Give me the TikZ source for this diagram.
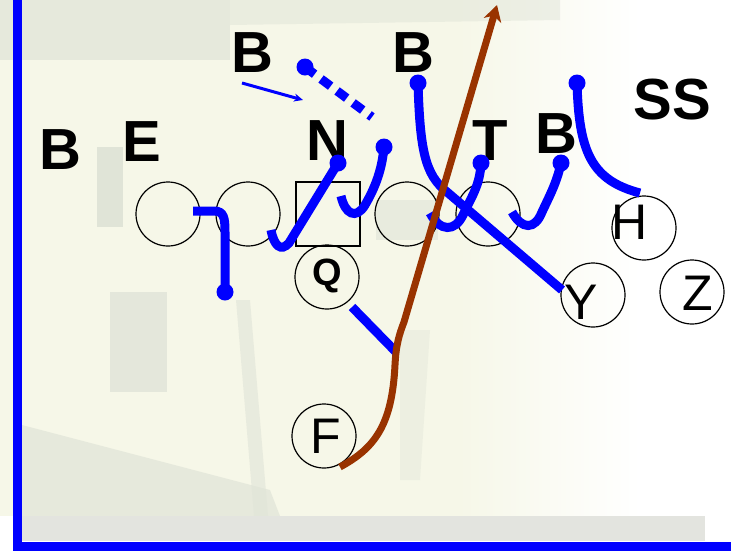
\documentclass[tikz,border=0pt]{standalone}
\usepackage{fontspec}
\setmainfont{Liberation Sans}
\usetikzlibrary{arrows.meta}
\definecolor{routeblue}{RGB}{0,0,255}
\definecolor{runbrown}{RGB}{153,51,0}
\definecolor{barfill}{RGB}{227,228,223}
\definecolor{bgcream}{RGB}{246,247,232}
\definecolor{bggrey}{RGB}{224,228,216}
\definecolor{bgdark}{RGB}{210,216,205}
\tikzset{
  player/.style={circle,draw=black,line width=1.2pt,minimum size=64pt,inner sep=0pt},
  centerbox/.style={rectangle,draw=black,line width=1.2pt,minimum size=64pt,inner sep=0pt},
  plabel/.style={inner sep=0pt,font=\fontsize{50}{50}\selectfont},
  qlabel/.style={inner sep=0pt,font=\fontsize{38}{38}\selectfont\bfseries},
  deflabel/.style={inner sep=0pt,font=\fontsize{58}{58}\selectfont\bfseries},
  route/.style={draw=routeblue,line width=9pt},
  dotted route/.style={route,dash pattern=on 12pt off 8pt},
  dot/.style={circle,fill=routeblue,inner sep=0pt,minimum size=17pt},
  run/.style={draw=runbrown,line width=7pt},
}
\begin{document}
\begin{tikzpicture}[x=1pt,y=-1pt]
\useasboundingbox (0,0) rectangle (731,550);
% faded background
\fill[white] (0,0) rectangle (731,550);
\fill[bgcream] (0,0) rectangle (460,516);
\shade[left color=bgcream,right color=white] (459,0) rectangle (640,516);
\fill[bggrey,opacity=.7] (0,0) rectangle (230,60);
\fill[bggrey,opacity=.5] (230,0) -- (560,0) -- (560,20) -- (230,25) -- cycle;
\fill[bgdark,opacity=.6] (97,147) rectangle (123,227);
\fill[bggrey,opacity=.8] (110,292) rectangle (167,392);
\fill[bggrey,opacity=.7] (22,425) -- (270,490) -- (280,516) -- (22,516) -- cycle;
\fill[bggrey,opacity=.6] (236,300) -- (250,300) -- (268,516) -- (254,516) -- cycle;
\fill[bggrey,opacity=.6] (376,200) rectangle (438,240);
\fill[bggrey,opacity=.4] (400,330) -- (430,330) -- (420,480) -- (400,480) -- cycle;
% frame
\fill[barfill] (22,516) rectangle (705,541);
\draw[routeblue,line width=9pt] (17,0) -- (17,546) -- (731,546);
% offensive line and backs
\node[player] (L2) at (168,214) {};
\node[player] (L1) at (248,214) {};
\node[centerbox] (C) at (328,214) {};
\node[player] (R1) at (407,214) {};
\node[player] (R2) at (488,214) {};
\node[player] (Hc) at (644,228) {};
\node[plabel] (Ht) at (630,222) {H};
\node[player] (Qc) at (327,277) {};
\node[qlabel] (Qt) at (327,276) {Q};
\node[player] (Yc) at (593,295) {};
\node[plabel] (Yt) at (581,302) {Y};
\node[player] (Zc) at (692,292) {};
\node[plabel] (Zt) at (698,293) {Z};
\node[player] (Fc) at (324,436) {};
\node[plabel] (Ft) at (326,436) {F};
% defence labels
\node[deflabel] (b1) at (60,150) {B};
\node[deflabel] (e) at (142,142) {E};
\node[deflabel] (b2) at (252,53) {B};
\node[deflabel] (n) at (327,141) {N};
\node[deflabel] (b3) at (413,53) {B};
\node[deflabel] (t) at (490,141) {T};
\node[deflabel] (b4) at (556,134) {B};
\node[deflabel] (ss) at (672,100) {SS};
% dots
\node[dot] (dE) at (225,292) {};
\node[dot] (dN) at (338,163) {};
\node[dot] (dN2) at (384,147) {};
\node[dot] (dB2) at (305,67) {};
\node[dot] (dB3) at (418,83) {};
\node[dot] (dT) at (481,163) {};
\node[dot] (dB4) at (561,163) {};
\node[dot] (dSS) at (577,83) {};
\coordinate (dashend) at (372,117);
\coordinate (arrS) at (242,83);
\coordinate (arrE) at (303,100);
\coordinate (yEnd) at (562,290);
\coordinate (hEnd) at (640,193);
\coordinate (qA) at (352,307);
\coordinate (qB) at (396,352);
\coordinate (fStart) at (340,467);
\coordinate (runTip) at (497,5);
% blue routes
\draw[route] (193,211) -- (214,211) .. controls (224,211) and (225,218) .. (225,232) -- (dE.center);
\draw[route] (271,230) .. controls (274,246) and (281,252) .. (289,243) -- (dN.center);
\draw[route] (341,196) .. controls (345,214) and (356,220) .. (365,205) .. controls (375,188) and (382,170) .. (dN2.center);
\draw[dotted route] (dB2.center) -- (dashend);
\draw[routeblue,line width=3pt,-{Stealth[length=9pt,width=8pt]}] (arrS) -- (arrE);
\draw[route] (dB3.center) .. controls (420,150) and (425,175) .. (447,192) -- (yEnd);
\draw[route] (430,213) .. controls (440,232) and (455,232) .. (463,215) .. controls (472,196) and (480,185) .. (dT.center);
\draw[route] (512,212) .. controls (522,230) and (535,230) .. (542,212) .. controls (550,195) and (557,182) .. (dB4.center);
\draw[route] (dSS.center) .. controls (579,150) and (590,180) .. (hEnd);
\draw[route] (qA) -- (qB);
% brown run
\draw[run,-{Stealth[length=16pt,width=18pt,inset=5pt]}] (fStart) .. controls (375,448) and (392,425) .. (395,365) .. controls (396,345) and (399,335) .. (404,322) -- (runTip);
\end{tikzpicture}
\end{document}
